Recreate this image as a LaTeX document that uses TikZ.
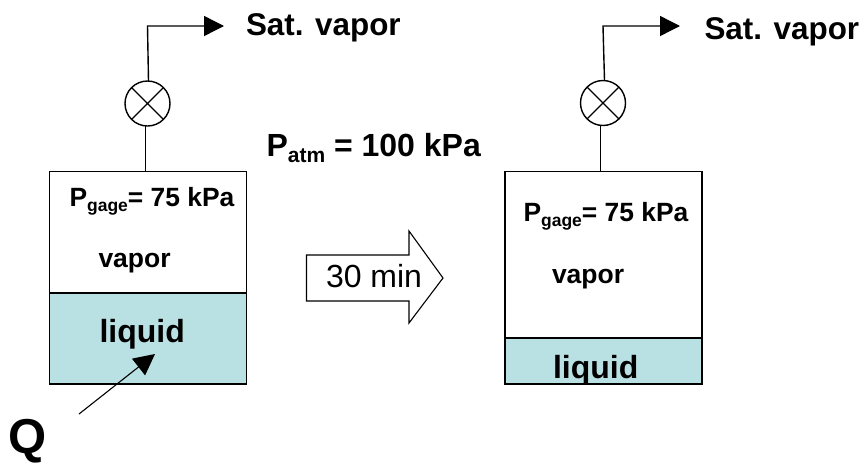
\documentclass[tikz,border=0pt]{standalone}
\usepackage{fontspec}
\setmainfont{Liberation Sans}
\usetikzlibrary{arrows.meta}
\definecolor{liquidfill}{HTML}{B9E0E2}
\newcommand{\txt}[2]{\fontsize{#1}{#1}\selectfont #2}
\newcommand{\pgage}{\bfseries\fontsize{26.4}{26.4}\selectfont P\raisebox{-5pt}{\fontsize{17.5}{17.5}\selectfont gage}= 75 kPa}
\tikzset{
  lbl/.style={anchor=base west,inner sep=0pt,outer sep=0pt,font=\bfseries},
  line/.style={line width=1.4pt,draw=black},
  pipe/.style={line,-{Triangle[length=20pt,width=20pt]}},
  tankbox/.style={line,line width=1.5pt,anchor=north west,inner sep=0pt,outer sep=0pt,minimum width=197pt},
  valve/.style={line,circle,minimum size=45pt,inner sep=0pt,outer sep=0pt}
}
\begin{document}
\begin{tikzpicture}[x=1pt,y=-1pt]
\useasboundingbox (0,0) rectangle (860,464);
% left tank
\node[tankbox,minimum height=122pt] (vapA) at (49.5,171.5) {};
\node[tankbox,fill=liquidfill,minimum height=91pt] (liqA) at (49.5,293) {};
\node[valve] (valA) at (147.5,103.5) {};
\draw[line] (valA.45) -- (valA.225) (valA.135) -- (valA.315);
\coordinate (baseA) at (145.5,171.5);
\coordinate (valAin) at (145.5,126);
\coordinate (valAout) at (148.5,81);
\coordinate (cornerA) at (147.5,26);
\coordinate (endA) at (224,26);
\draw[line] (baseA) -- (valAin);
\draw[pipe] (valAout) -- (cornerA) -- (endA);
% right tank
\node[tankbox,minimum height=166.5pt] (vapB) at (505,171.5) {};
\node[tankbox,fill=liquidfill,minimum height=46pt] (liqB) at (505,338) {};
\node[valve] (valB) at (603,103) {};
\draw[line] (valB.45) -- (valB.225) (valB.135) -- (valB.315);
\coordinate (baseB) at (600.5,171.5);
\coordinate (valBin) at (600.5,126);
\coordinate (valBout) at (604.5,80);
\coordinate (cornerB) at (603,26);
\coordinate (endB) at (680,26);
\draw[line] (baseB) -- (valBin);
\draw[pipe] (valBout) -- (cornerB) -- (endB);
% block arrow
\draw[line,line width=1.1pt,fill=white] (306.5,255) -- (409,255) -- (409,231) -- (443,278) -- (409,323) -- (409,301) -- (306.5,301) -- cycle;
\node[lbl,font=\mdseries] (min) at (326,287) {\txt{32}{30 min}};
% heat arrow
\coordinate (heatS) at (79,414);
\coordinate (heatE) at (155,354);
\draw[line,line width=1.1pt,-{Triangle[length=21pt,width=21pt]}] (heatS) -- (heatE);
% labels
\node[lbl] (satA) at (246,35) {\txt{31.4}{Sat. vapor}};
\node[lbl] (satB) at (704.5,39.5) {\txt{31.4}{Sat. vapor}};
\node[lbl] (patm) at (266.5,156) {\txt{32}{P\raisebox{-6pt}{\fontsize{21}{21}\selectfont atm} = 100 kPa}};
\node[lbl] (gA) at (69.5,206) {\pgage};
\node[lbl] (gB) at (523.5,221.5) {\pgage};
\node[lbl] (vA) at (98.5,267.5) {\txt{26.5}{vapor}};
\node[lbl] (vB) at (552,283.5) {\txt{26.5}{vapor}};
\node[lbl] (lA) at (99.5,342.5) {\txt{32}{liquid}};
\node[lbl] (lB) at (553,378.5) {\txt{32}{liquid}};
\node[lbl] (q) at (9,453) {\txt{49}{Q}};
\end{tikzpicture}
\end{document}
